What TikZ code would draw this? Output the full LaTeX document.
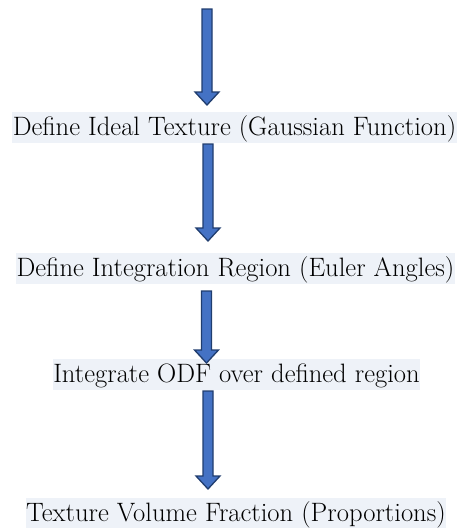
\documentclass[tikz,border=0pt]{standalone}
\usetikzlibrary{calc}
\definecolor{arrowfill}{HTML}{4472C4}
\definecolor{arrowline}{HTML}{203D6E}
\definecolor{shade}{HTML}{EEF2F8}
\tikzset{
  stepbox/.style={fill=shade, inner xsep=0.5pt, inner ysep=0pt, text height=23pt, text depth=8pt,
    font=\fontsize{26.6pt}{30pt}\selectfont, anchor=north},
  fatarrow/.style={fill=arrowfill, draw=arrowline, line width=1.3pt, line join=miter}
}
\newcommand{\fatarrow}[2]{%
  \draw[fatarrow] let \p1=(#1), \p2=(#2) in
    (\x1-5,\y1) -- (\x1+5,\y1) -- (\x1+5,\y2+13) -- (\x1+12,\y2+13) -- (\x1,\y2)
    -- (\x1-12,\y2+13) -- (\x1-5,\y2+13) -- cycle;}
\begin{document}
\begin{tikzpicture}[x=1pt,y=-1pt]
\useasboundingbox (0,0) rectangle (458,528);
\node[stepbox] (t1) at (234.5,112) {Define Ideal Texture (Gaussian Function)};
\node[stepbox] (t2) at (235.5,253) {Define Integration Region (Euler Angles)};
\node[stepbox] (t3) at (236.5,359) {Integrate ODF over defined region};
\node[stepbox] (t4) at (236,498) {Texture Volume Fraction (Proportions)};
\coordinate (s1) at (207,9);
\coordinate (e1) at (207,105);
\coordinate (s2) at (208,144);
\coordinate (e2) at (208,241);
\coordinate (s3) at (206.5,291);
\coordinate (e3) at (206.5,363);
\coordinate (s4) at (208,391);
\coordinate (e4) at (208,489);
\fatarrow{s1}{e1}
\fatarrow{s2}{e2}
\fatarrow{s3}{e3}
\fatarrow{s4}{e4}
\end{tikzpicture}
\end{document}
